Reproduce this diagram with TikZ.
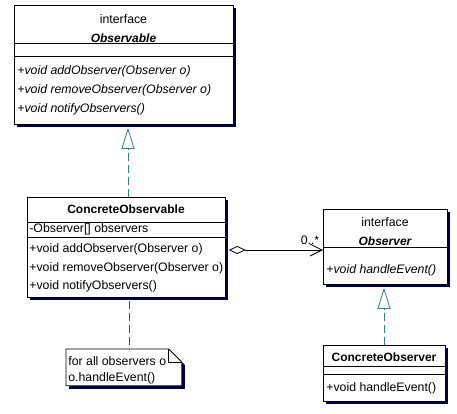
\documentclass[tikz,border=0pt]{standalone}
\usepackage{fontspec}
\setmainfont{Liberation Sans}
\usetikzlibrary{arrows.meta, shadows}
\definecolor{umlnavy}{RGB}{0,0,72}
\definecolor{umlteal}{RGB}{48,128,136}
\definecolor{umlpurple}{RGB}{120,48,128}

\begin{document}
\begin{tikzpicture}[x=1pt, y=-1pt, line width=0.8pt,
  every node/.style={font=\fontsize{12.3}{14}\selectfont, inner sep=0pt, text height=8.6pt, text depth=0pt},
  classbox/.style={draw, fill=white, anchor=north west,
    drop shadow={shadow xshift=3pt, shadow yshift=-3pt, fill=umlnavy, opacity=1}},
  member/.style={anchor=west},
  ital/.style={font=\fontsize{12.3}{14}\selectfont\itshape},
  title/.style={font=\fontsize{12}{14}\selectfont\bfseries},
  ititle/.style={font=\fontsize{12}{14}\selectfont\bfseries\itshape},
  realize/.style={umlteal, dash pattern=on 8pt off 4pt, -{Triangle[open, length=21pt, width=13pt]}, shorten >=3pt}]
  \useasboundingbox[fill=white] (0,0) rectangle (457,413);

  \node[classbox, minimum width=219pt, minimum height=119pt] (obs) at (14,5) {};
  \draw (obs.west |- 0,43) -- (obs.east |- 0,43);
  \draw (obs.west |- 0,56) -- (obs.east |- 0,56);
  \node (obsst) at (123.5,19) {interface};
  \node[ititle] (obsnm) at (123.5,38) {Observable};
  \node[member, ital] (obsm1) at (17,70) {+void addObserver(Observer o)};
  \node[member, ital] (obsm2) at (17,89) {+void removeObserver(Observer o)};
  \node[member, ital] (obsm3) at (17,108) {+void notifyObservers()};

  \node[classbox, minimum width=198pt, minimum height=100pt] (cobs) at (27,197) {};
  \draw (cobs.west |- 0,222) -- (cobs.east |- 0,222);
  \draw (cobs.west |- 0,237.5) -- (cobs.east |- 0,237.5);
  \node[title] (cobsnm) at (126,209) {ConcreteObservable};
  \node[member] (cobsat) at (29,228) {-Observer[] observers};
  \node[member] (cobsm1) at (29,248) {+void addObserver(Observer o)};
  \node[member] (cobsm2) at (29,267) {+void removeObserver(Observer o)};
  \node[member] (cobsm3) at (29,285) {+void notifyObservers()};

  \node[classbox, minimum width=124pt, minimum height=75pt] (obsr) at (323,209) {};
  \draw (obsr.west |- 0,247) -- (obsr.east |- 0,247);
  \node (obsrst) at (385,222) {interface};
  \node[ititle] (obsrnm) at (385,241) {Observer};
  \node[member, ital] (obsrm1) at (326,269) {+void handleEvent()};

  \node[classbox, minimum width=122pt, minimum height=56pt] (cobsr) at (323,345) {};
  \draw (cobsr.west |- 0,366) -- (cobsr.east |- 0,366);
  \draw (cobsr.west |- 0,374) -- (cobsr.east |- 0,374);
  \node[title] (cobsrnm) at (384,357) {ConcreteObserver};
  \node[member] (cobsrm1) at (326,387) {+void handleEvent()};

  \node[anchor=north west, minimum width=115pt, minimum height=36pt] (note) at (66,349) {};
  \fill[umlnavy] ([shift={(3,3)}]note.north west) -- ([shift={(-10,3)}]note.north east)
    -- ([shift={(3,16)}]note.north east) -- ([shift={(3,3)}]note.south east)
    -- ([shift={(3,3)}]note.south west) -- cycle;
  \filldraw[fill=white] (note.north west) -- ([shift={(-13,0)}]note.north east)
    -- ([shift={(0,13)}]note.north east) -- (note.south east) -- (note.south west) -- cycle;
  \draw ([shift={(-13,0)}]note.north east) -- ([shift={(-13,13)}]note.north east) -- ([shift={(0,13)}]note.north east);
  \node[member] (notel1) at (68,361) {for all observers o};
  \node[member] (notel2) at (68,377) {o.handleEvent()};

  \coordinate (r1) at (128,0);
  \coordinate (r2) at (384,0);
  \coordinate (n1) at (129,0);
  \draw[realize] (r1 |- cobs.north) -- (r1 |- obs.south);
  \draw[realize] (r2 |- cobsr.north) -- (r2 |- obsr.south);
  \draw[umlpurple, dash pattern=on 8pt off 4pt, shorten <=3pt] (n1 |- cobs.south) -- (n1 |- note.north);
  \draw[{Diamond[open, length=17pt, width=8pt]}-{Straight Barb[length=12pt, width=12pt]}, shorten <=3pt]
    (cobs.east |- 0,250) -- (obsr.west |- 0,250);
  \node (mult) at (310,240) {0..*};
\end{tikzpicture}
\end{document}
